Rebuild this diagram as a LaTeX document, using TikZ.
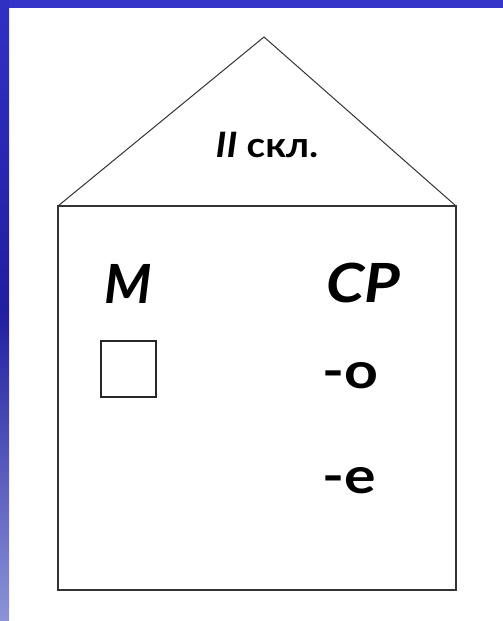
\documentclass[tikz,border=0pt]{standalone}
\usepackage{fontspec}
\setmainfont{Lato}
\begin{document}
\begin{tikzpicture}[x=1pt,y=-1pt,
  edge/.style={draw=black!80,line width=1.3pt},
  lbl/.style={inner sep=0pt,anchor=base west,text=black},
  bigit/.style={lbl,font=\fontsize{54}{60}\selectfont\bfseries\itshape},
  ending/.style={lbl,xscale=1.18,font=\fontsize{50}{56}\selectfont\bfseries}]
\useasboundingbox (0,0) rectangle (503,621);
\fill[white] (0,0) rectangle (503,621);
\fill[fill={rgb,255:red,52;green,52;blue,200}] (0,0) rectangle (503,8);
\shade[top color={rgb,255:red,48;green,48;blue,196}, bottom color={rgb,255:red,140;green,148;blue,215}, middle color={rgb,255:red,34;green,30;blue,160}] (0,0) rectangle (9,621);
% house
\coordinate (apex) at (264,37);
\coordinate (bl) at (58,590);
\coordinate (tl) at (58,206);
\coordinate (tr) at (456,206);
\coordinate (br) at (456,590);
\draw[edge,line width=1pt] (tl) -- (apex) -- (tr);
\draw[edge,line width=1.6pt] (tl) -- (tr) -- (br) -- (bl) -- cycle;
\node[draw=black!85,line width=1.3pt,minimum width=55pt,minimum height=56pt,inner sep=0pt] (sq) at (128.5,369) {};
\node[inner sep=0pt,anchor=base,xscale=1.1,font=\fontsize{35}{40}\selectfont\bfseries] (skl) at (267,157) {{\itshape II} скл.};
\node[bigit] (m) at (104,303) {М};
\node[bigit,xscale=1.14] (sr) at (326,302) {СР};
\node[ending] (o) at (322,388) {-о};
\node[ending] (e) at (322,493) {-е};
\end{tikzpicture}
\end{document}
